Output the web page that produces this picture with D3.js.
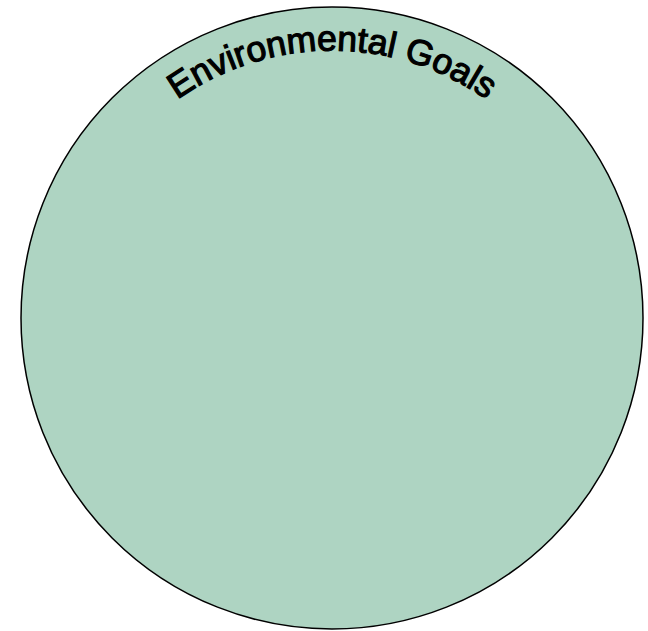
<!DOCTYPE html>
<html>
<head>
<meta charset="UTF-8" />
<script src="https://d3js.org/d3.v7.min.js"></script>
<style>
  body { margin: 0; background: #fff; }
  .label { font-family: "Liberation Sans", Arial, sans-serif; font-size: 35.5px; fill: #000; stroke: #000; stroke-width: 1.2px; }
</style>
</head>
<body>
<script>
  const categories = ["Environmental Goals"];
  const values = [1];

  const width = 648, height = 631;
  const cx = 332, cy = 318, size = 622;

  const svg = d3.select("body").append("svg")
    .attr("width", width)
    .attr("height", height);

  const root = d3.hierarchy({ children: categories.map((c, i) => ({ name: c, value: values[i] })) })
    .sum(d => d.value || 0);
  d3.pack().size([size, size]).padding(0)(root);

  const g = svg.append("g")
    .attr("transform", `translate(${cx - size / 2},${cy - size / 2})`);

  const nodes = g.selectAll("g.node").data(root.leaves()).join("g")
    .attr("class", "node")
    .attr("transform", d => `translate(${d.x},${d.y})`);

  nodes.append("circle")
    .attr("r", d => d.r)
    .attr("fill", "#aed4c2")
    .attr("stroke", "#000")
    .attr("stroke-width", 1.5);

  // arc for the curved label, running left to right over the top
  nodes.append("path")
    .attr("id", (d, i) => "arc" + i)
    .attr("fill", "none")
    .attr("d", d => {
      const r = d.r * 0.86;
      return `M${-r},0 A${r},${r} 0 0,1 ${r},0`;
    });

  nodes.append("text")
    .attr("class", "label")
    .append("textPath")
    .attr("href", (d, i) => "#arc" + i)
    .attr("startOffset", "50%")
    .attr("text-anchor", "middle")
    .text(d => d.data.name);
</script>
</body>
</html>
